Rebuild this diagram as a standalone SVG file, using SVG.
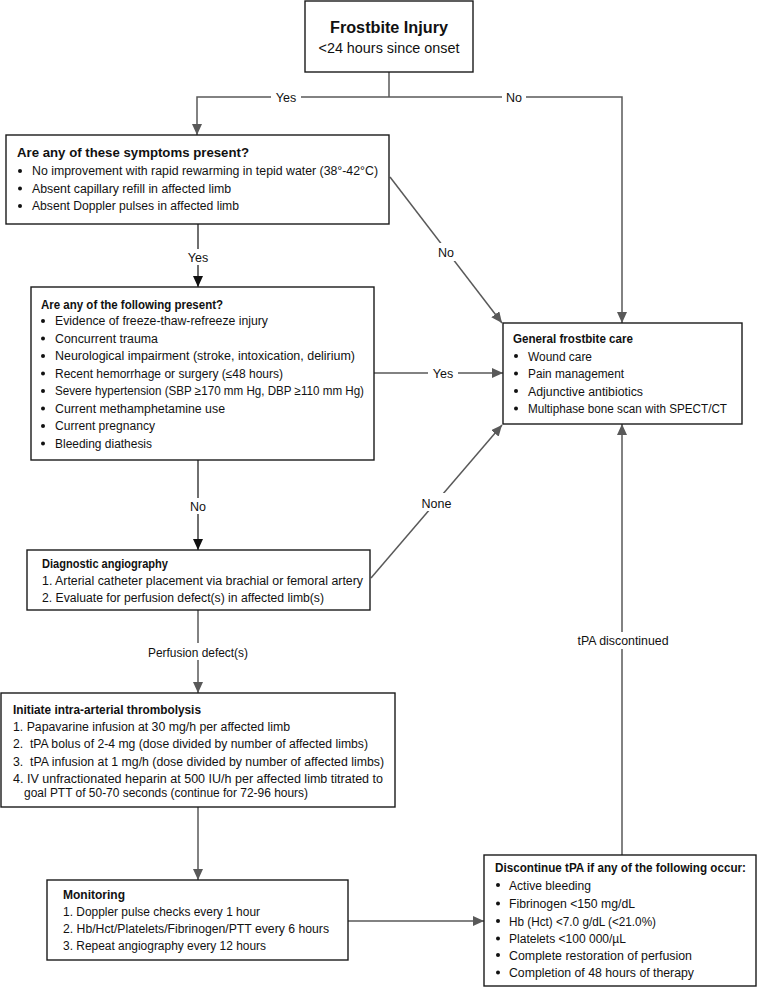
<svg xmlns="http://www.w3.org/2000/svg" width="760" height="987" viewBox="0 0 760 987">
<style>
text{font-family:"Liberation Sans",Arial,sans-serif;font-size:12.5px;fill:#111}
.b{font-weight:bold}
.box{fill:#fff;stroke:#1a1a1a;stroke-width:1.4}
.c{fill:none;stroke:#595959;stroke-width:1.5}
.ck{fill:none;stroke:#222;stroke-width:1.3}
.lbl{text-anchor:middle}
.bg{fill:#fff}
circle{fill:#111}
</style>
<defs>
<marker id="ah" markerUnits="userSpaceOnUse" markerWidth="12" markerHeight="10" refX="11" refY="5" orient="auto"><path d="M0,0 L11,5 L0,10 z" fill="#595959"/></marker>
<marker id="ahk" markerUnits="userSpaceOnUse" markerWidth="12" markerHeight="10" refX="11" refY="5" orient="auto"><path d="M0,0 L11,5 L0,10 z" fill="#111"/></marker>
</defs>
<g id="connectors">
<path class="c" d="M389,72 V97"/>
<path class="c" d="M389,97 H197 V135" marker-end="url(#ah)"/>
<path class="c" d="M389,97 H622 V323" marker-end="url(#ah)"/>
<path class="c" d="M390,177 L502,323" marker-end="url(#ah)"/>
<path class="ck" d="M198,224 V287" marker-end="url(#ahk)"/>
<path class="c" d="M374,373 H503" marker-end="url(#ah)"/>
<path class="ck" d="M198,460 V550" marker-end="url(#ahk)"/>
<path class="c" d="M371,578 L502,425" marker-end="url(#ah)"/>
<path class="c" d="M198,610 V693" marker-end="url(#ah)"/>
<path class="c" d="M198,807 V880" marker-end="url(#ah)"/>
<path class="c" d="M348,921 H484" marker-end="url(#ah)"/>
<path class="c" d="M622,855 V424" marker-end="url(#ah)"/>
<rect class="bg" x="271" y="89" width="30" height="16"/>
<text class="lbl" x="286" y="101.5">Yes</text>
<rect class="bg" x="502" y="89" width="24" height="16"/>
<text class="lbl" x="514" y="101.5">No</text>
<rect class="bg" x="183" y="249" width="30" height="16"/>
<text class="lbl" x="198" y="261.5">Yes</text>
<rect class="bg" x="434" y="243" width="24" height="18"/>
<text class="lbl" x="446" y="256.5">No</text>
<rect class="bg" x="428" y="365" width="30" height="16"/>
<text class="lbl" x="443" y="377.5">Yes</text>
<rect class="bg" x="186" y="498" width="24" height="16"/>
<text class="lbl" x="198" y="510.5">No</text>
<rect class="bg" x="419" y="493" width="35" height="18"/>
<text class="lbl" x="436.5" y="507.5">None</text>
<rect class="bg" x="144" y="643" width="108" height="17"/>
<text class="lbl" x="198" y="656.5" textLength="100" lengthAdjust="spacingAndGlyphs">Perfusion defect(s)</text>
<rect class="bg" x="574" y="632" width="98" height="17"/>
<text class="lbl" x="623" y="644.5" textLength="91" lengthAdjust="spacingAndGlyphs">tPA discontinued</text>
</g>
<g id="n-frostbite">
<rect class="box" x="305" y="1" width="168" height="71"/>
<text class="b lbl" x="389" y="33" style="font-size:16px" textLength="118" lengthAdjust="spacingAndGlyphs">Frostbite Injury</text>
<text class="lbl" x="389" y="53" style="font-size:14px" textLength="141" lengthAdjust="spacingAndGlyphs">&lt;24 hours since onset</text>
</g>
<g id="n-symptoms">
<rect class="box" x="6" y="135" width="383" height="89"/>
<text class="b" x="17" y="157" textLength="232" lengthAdjust="spacingAndGlyphs">Are any of these symptoms present?</text>
<circle cx="20" cy="171" r="2"/><text x="32" y="175" textLength="346" lengthAdjust="spacingAndGlyphs">No improvement with rapid rewarming in tepid water (38°-42°C)</text>
<circle cx="20" cy="188.5" r="2"/><text x="32" y="192.5" textLength="199" lengthAdjust="spacingAndGlyphs">Absent capillary refill in affected limb</text>
<circle cx="20" cy="206" r="2"/><text x="32" y="210" textLength="207" lengthAdjust="spacingAndGlyphs">Absent Doppler pulses in affected limb</text>
</g>
<g id="n-contra">
<rect class="box" x="31" y="287" width="343" height="173"/>
<text class="b" x="41" y="309" textLength="182" lengthAdjust="spacingAndGlyphs">Are any of the following present?</text>
<circle cx="43" cy="321" r="2"/><text x="55" y="325" textLength="213" lengthAdjust="spacingAndGlyphs">Evidence of freeze-thaw-refreeze injury</text>
<circle cx="43" cy="338.5" r="2"/><text x="55" y="342.5" textLength="103" lengthAdjust="spacingAndGlyphs">Concurrent trauma</text>
<circle cx="43" cy="356" r="2"/><text x="55" y="360" textLength="300" lengthAdjust="spacingAndGlyphs">Neurological impairment (stroke, intoxication, delirium)</text>
<circle cx="43" cy="373.5" r="2"/><text x="55" y="377.5" textLength="228" lengthAdjust="spacingAndGlyphs">Recent hemorrhage or surgery (≤48 hours)</text>
<circle cx="43" cy="391" r="2"/><text x="55" y="395" textLength="309" lengthAdjust="spacingAndGlyphs">Severe hypertension (SBP ≥170 mm Hg, DBP ≥110 mm Hg)</text>
<circle cx="43" cy="408.5" r="2"/><text x="55" y="412.5" textLength="170" lengthAdjust="spacingAndGlyphs">Current methamphetamine use</text>
<circle cx="43" cy="426" r="2"/><text x="55" y="430" textLength="100" lengthAdjust="spacingAndGlyphs">Current pregnancy</text>
<circle cx="43" cy="443.5" r="2"/><text x="55" y="447.5" textLength="97" lengthAdjust="spacingAndGlyphs">Bleeding diathesis</text>
</g>
<g id="n-general">
<rect class="box" x="503" y="323" width="239" height="101"/>
<text class="b" x="513" y="343" textLength="120" lengthAdjust="spacingAndGlyphs">General frostbite care</text>
<circle cx="516" cy="356" r="2"/><text x="528" y="360.5" textLength="64" lengthAdjust="spacingAndGlyphs">Wound care</text>
<circle cx="516" cy="373.5" r="2"/><text x="528" y="378" textLength="96" lengthAdjust="spacingAndGlyphs">Pain management</text>
<circle cx="516" cy="391" r="2"/><text x="528" y="395.5" textLength="115" lengthAdjust="spacingAndGlyphs">Adjunctive antibiotics</text>
<circle cx="516" cy="408.5" r="2"/><text x="528" y="413" textLength="199" lengthAdjust="spacingAndGlyphs">Multiphase bone scan with SPECT/CT</text>
</g>
<g id="n-angio">
<rect class="box" x="27" y="550" width="343" height="60"/>
<text class="b" x="42" y="568" textLength="126" lengthAdjust="spacingAndGlyphs">Diagnostic angiography</text>
<text x="42" y="584.5" textLength="321" lengthAdjust="spacingAndGlyphs">1. Arterial catheter placement via brachial or femoral artery</text>
<text x="42" y="602" textLength="282" lengthAdjust="spacingAndGlyphs">2. Evaluate for perfusion defect(s) in affected limb(s)</text>
</g>
<g id="n-thrombolysis">
<rect class="box" x="1" y="693" width="394" height="114"/>
<text class="b" x="13" y="714" textLength="188" lengthAdjust="spacingAndGlyphs">Initiate intra-arterial thrombolysis</text>
<text x="13" y="731" textLength="277" lengthAdjust="spacingAndGlyphs">1. Papavarine infusion at 30 mg/h per affected limb</text>
<text x="13" y="748" xml:space="preserve" textLength="355" lengthAdjust="spacingAndGlyphs">2.  tPA bolus of 2-4 mg (dose divided by number of affected limbs)</text>
<text x="13" y="765.5" xml:space="preserve" textLength="371" lengthAdjust="spacingAndGlyphs">3.  tPA infusion at 1 mg/h (dose divided by number of affected limbs)</text>
<text x="13" y="782.5" textLength="370" lengthAdjust="spacingAndGlyphs">4. IV unfractionated heparin at 500 IU/h per affected limb titrated to</text>
<text x="24" y="796.5" textLength="284" lengthAdjust="spacingAndGlyphs">goal PTT of 50-70 seconds (continue for 72-96 hours)</text>
</g>
<g id="n-monitoring">
<rect class="box" x="47" y="880" width="301" height="80"/>
<text class="b" x="63" y="899" textLength="62" lengthAdjust="spacingAndGlyphs">Monitoring</text>
<text x="63" y="915.5" textLength="197" lengthAdjust="spacingAndGlyphs">1. Doppler pulse checks every 1 hour</text>
<text x="63" y="933" textLength="266" lengthAdjust="spacingAndGlyphs">2. Hb/Hct/Platelets/Fibrinogen/PTT every 6 hours</text>
<text x="63" y="950" textLength="203" lengthAdjust="spacingAndGlyphs">3. Repeat angiography every 12 hours</text>
</g>
<g id="n-discontinue">
<rect class="box" x="484" y="855" width="272" height="131"/>
<text class="b" x="495" y="872" style="font-size:11.9px" textLength="251" lengthAdjust="spacingAndGlyphs">Discontinue tPA if any of the following occur:</text>
<circle cx="498" cy="885" r="2"/><text x="509" y="889.5" textLength="82" lengthAdjust="spacingAndGlyphs">Active bleeding</text>
<circle cx="498" cy="903.5" r="2"/><text x="509" y="908" textLength="126" lengthAdjust="spacingAndGlyphs">Fibrinogen &lt;150 mg/dL</text>
<circle cx="498" cy="921" r="2"/><text x="509" y="925.5" textLength="147" lengthAdjust="spacingAndGlyphs">Hb (Hct) &lt;7.0 g/dL (&lt;21.0%)</text>
<circle cx="498" cy="938.5" r="2"/><text x="509" y="943" textLength="117" lengthAdjust="spacingAndGlyphs">Platelets &lt;100 000/µL</text>
<circle cx="498" cy="955" r="2"/><text x="509" y="959.5" textLength="183" lengthAdjust="spacingAndGlyphs">Complete restoration of perfusion</text>
<circle cx="498" cy="972.5" r="2"/><text x="509" y="977" textLength="185" lengthAdjust="spacingAndGlyphs">Completion of 48 hours of therapy</text>
</g>
</svg>
